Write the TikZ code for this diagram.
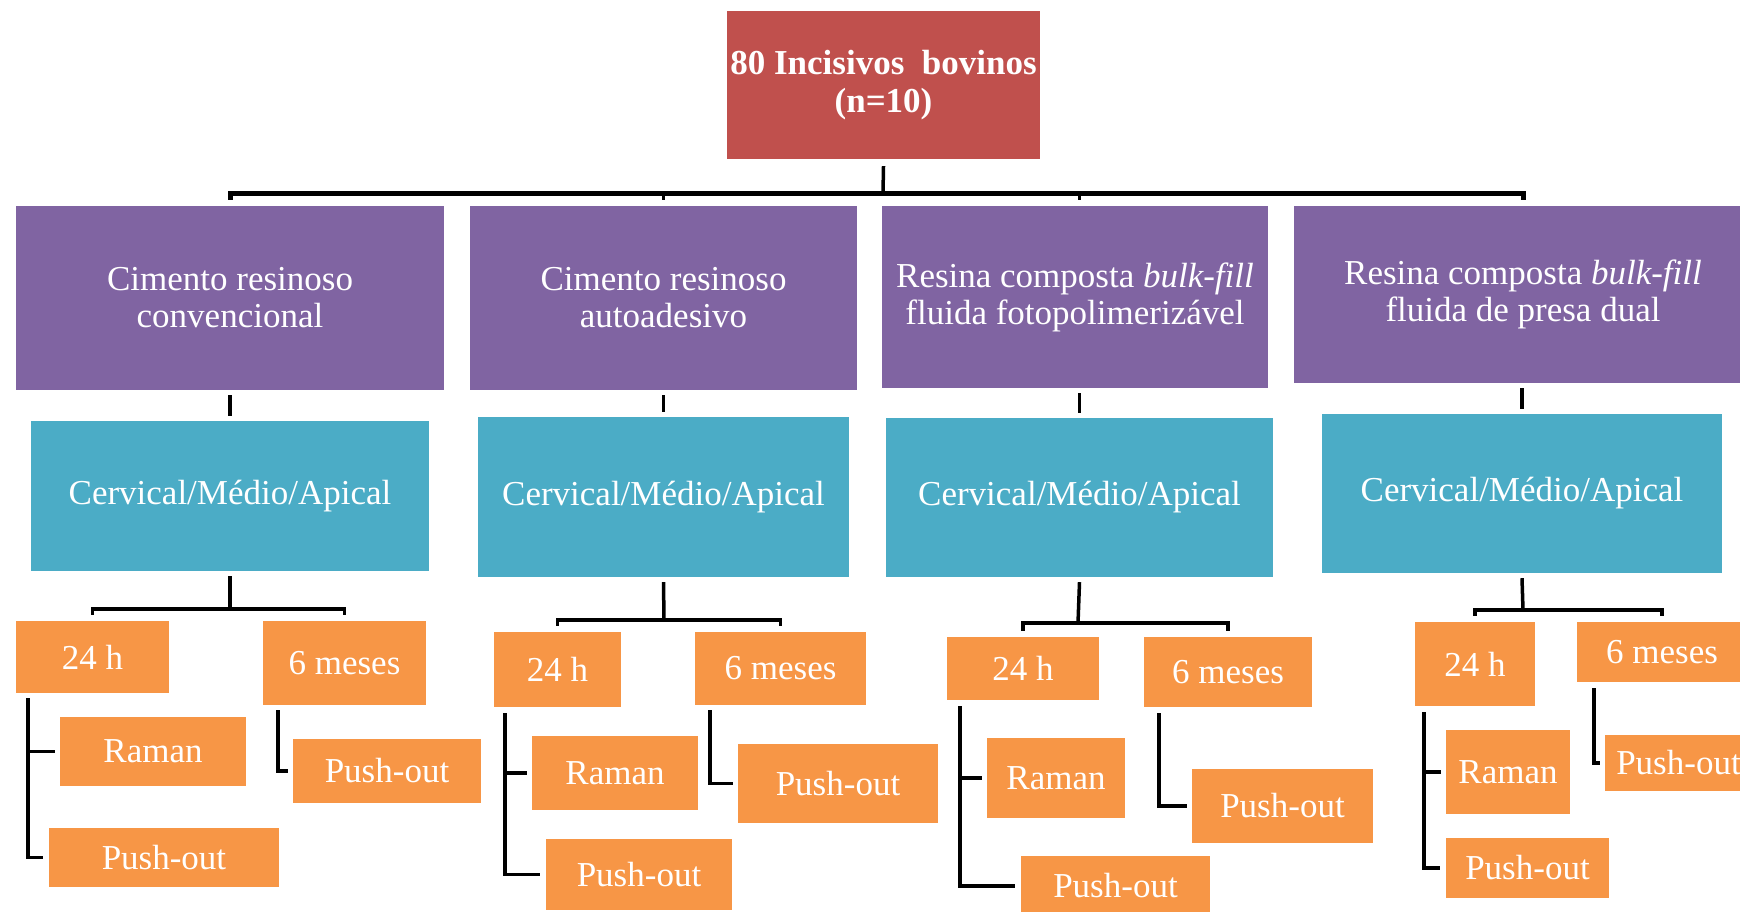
\documentclass[tikz,border=0pt]{standalone}
\usepackage{fontspec}
\setmainfont{Liberation Serif}
\usetikzlibrary{calc}
\definecolor{rootred}{RGB}{192,80,77}
\definecolor{grouppurple}{RGB}{128,100,162}
\definecolor{regionteal}{RGB}{75,172,198}
\definecolor{timeorange}{RGB}{247,150,70}
\tikzset{chart box/.style={rectangle, inner sep=0pt, text=white, align=center, font=\fontsize{35}{37}\selectfont}}
\tikzset{root box/.style={chart box, fill=rootred, font=\fontsize{35}{38}\selectfont\bfseries}}
\tikzset{group box/.style={chart box, fill=grouppurple}}
\tikzset{region box/.style={chart box, fill=regionteal}}
\tikzset{time box/.style={chart box, fill=timeorange}}
\tikzset{link/.style={draw=black, line width=3.5pt}}
\tikzset{trunk/.style={draw=black, line width=5pt}}

\begin{document}
\begin{tikzpicture}[x=1pt, y=-1pt]
\useasboundingbox (0,0) rectangle (1740,911);
\node[root box, minimum width=313pt, minimum height=148pt] (root) at (883.5,85) {80 Incisivos\ \ bovinos\\(n=10)};
% groups
\node[group box, minimum width=428pt, minimum height=184pt] (p1) at (230,298) {Cimento resinoso\\convencional};
\node[group box, minimum width=387pt, minimum height=184pt] (p2) at (663.5,298) {Cimento resinoso\\autoadesivo};
\node[group box, minimum width=386pt, minimum height=182pt] (p3) at (1075,297) {Resina composta \textit{bulk-fill}\\fluida fotopolimerizável};
\node[group box, minimum width=458pt, minimum height=177pt] (p4) at (1523,294.5) {Resina composta \textit{bulk-fill}\\fluida de presa dual};
% regions
\node[region box, minimum width=398pt, minimum height=150pt] (t1) at (230,496) {Cervical/Médio/Apical};
\node[region box, minimum width=371pt, minimum height=160pt] (t2) at (663.5,497) {Cervical/Médio/Apical};
\node[region box, minimum width=387pt, minimum height=159pt] (t3) at (1079.5,497.5) {Cervical/Médio/Apical};
\node[region box, minimum width=400pt, minimum height=159pt] (t4) at (1522,493.5) {Cervical/Médio/Apical};
% column 1
\node[time box, minimum width=153pt, minimum height=72pt] (h1) at (92.5,657) {24 h};
\node[time box, minimum width=163pt, minimum height=84pt] (m1) at (344.5,663) {6 meses};
\node[time box, minimum width=186pt, minimum height=69pt] (r1) at (153,751.5) {Raman};
\node[time box, minimum width=230pt, minimum height=59pt] (ph1) at (164,857.5) {Push-out};
\node[time box, minimum width=188pt, minimum height=64pt] (pm1) at (387,771) {Push-out};
% column 2
\node[time box, minimum width=127pt, minimum height=75pt] (h2) at (557.5,669.5) {24 h};
\node[time box, minimum width=171pt, minimum height=73pt] (m2) at (780.5,668.5) {6 meses};
\node[time box, minimum width=166pt, minimum height=74pt] (r2) at (615,773) {Raman};
\node[time box, minimum width=186pt, minimum height=71pt] (ph2) at (639,874.5) {Push-out};
\node[time box, minimum width=200pt, minimum height=79pt] (pm2) at (838,783.5) {Push-out};
% column 3
\node[time box, minimum width=152pt, minimum height=63pt] (h3) at (1023,668.5) {24 h};
\node[time box, minimum width=168pt, minimum height=70pt] (m3) at (1228,672) {6 meses};
\node[time box, minimum width=138pt, minimum height=80pt] (r3) at (1056,778) {Raman};
\node[time box, minimum width=189pt, minimum height=60pt] (ph3) at (1115.5,886) {Push-out};
\node[time box, minimum width=181pt, minimum height=74pt] (pm3) at (1282.5,806) {Push-out};
% column 4
\node[time box, minimum width=120pt, minimum height=84pt] (h4) at (1475,664) {24 h};
\node[time box, minimum width=170pt, minimum height=60pt] (m4) at (1662,652) {6 meses};
\node[time box, minimum width=124pt, minimum height=84pt] (r4) at (1508,772) {Raman};
\node[time box, minimum width=163pt, minimum height=60pt] (ph4) at (1527.5,868) {Push-out};
\node[time box, minimum width=147pt, minimum height=56pt] (pm4) at (1678.5,763) {Push-out};

% root to groups
\coordinate (busmid) at (883,193);
\draw[link] ([yshift=-7pt]root.south) -- (busmid);
\draw[trunk] ([yshift=6pt]p1.north) |- (busmid) -| ([yshift=6pt]p4.north);
\draw[link] (busmid -| p2.north) -- ([yshift=6pt]p2.north);
\draw[link] (busmid -| t3.north) -- ([yshift=6pt]t3.north |- p3.north);
% groups to regions
\draw[link] ([yshift=-5pt]t1.north |- p1.south) -- ([yshift=5pt]t1.north);
\draw[link] ([yshift=-5pt]t2.north |- p2.south) -- ([yshift=5pt]t2.north);
\draw[link] ([yshift=-5pt]t3.north |- p3.south) -- ([yshift=5pt]t3.north);
\draw[link] ([yshift=-5pt]t4.north |- p4.south) -- ([yshift=5pt]t4.north);
% regions to times
\coordinate (b1) at (230,609);
\coordinate (b2) at (664,620);
\coordinate (b3) at (1078,623);
\coordinate (b4) at (1523,610);
\draw[link] ([yshift=-5pt]t1.south) -- (b1);
\draw[link] ([yshift=6pt]h1.north) |- (b1) -| ([yshift=6pt]m1.north);
\draw[link] ([yshift=-5pt]t2.south) -- (b2);
\draw[link] ([yshift=6pt]h2.north) |- (b2) -| ([yshift=6pt]m2.north);
\draw[link] ([yshift=-5pt]t3.south) -- (b3);
\draw[link] ([yshift=6pt]h3.north) |- (b3) -| ([yshift=6pt]m3.north);
\draw[link] ([yshift=-5pt]t4.south) -- (b4);
\draw[link] ([yshift=6pt]h4.north) |- (b4) -| ([yshift=6pt]m4.north);
% times to tests
\draw[link] ([xshift=12pt,yshift=-5pt]h1.south west) |- ([xshift=-6pt]ph1.west);
\draw[link] ([xshift=12pt]h1.south west |- r1.west) -- ([xshift=-5pt]r1.west);
\draw[link] ([xshift=15pt,yshift=-5pt]m1.south west) |- ([xshift=-5pt]pm1.west);
\draw[link] ([xshift=11pt,yshift=-6pt]h2.south west) |- ([xshift=-6pt]ph2.west);
\draw[link] ([xshift=11pt]h2.south west |- r2.west) -- ([xshift=-5pt]r2.west);
\draw[link] ([xshift=15pt,yshift=-5pt]m2.south west) |- ([xshift=-5pt]pm2.west);
\draw[link] ([xshift=13pt,yshift=-6pt]h3.south west) |- ([xshift=-6pt]ph3.west);
\draw[link] ([xshift=13pt]h3.south west |- r3.west) -- ([xshift=-5pt]r3.west);
\draw[link] ([xshift=15pt,yshift=-6pt]m3.south west) |- ([xshift=-5pt]pm3.west);
\draw[link] ([xshift=9pt,yshift=-6pt]h4.south west) |- ([xshift=-6pt]ph4.west);
\draw[link] ([xshift=9pt]h4.south west |- r4.west) -- ([xshift=-5pt]r4.west);
\draw[link] ([xshift=17pt,yshift=-6pt]m4.south west) |- ([xshift=-5pt]pm4.west);
\end{tikzpicture}
\end{document}
